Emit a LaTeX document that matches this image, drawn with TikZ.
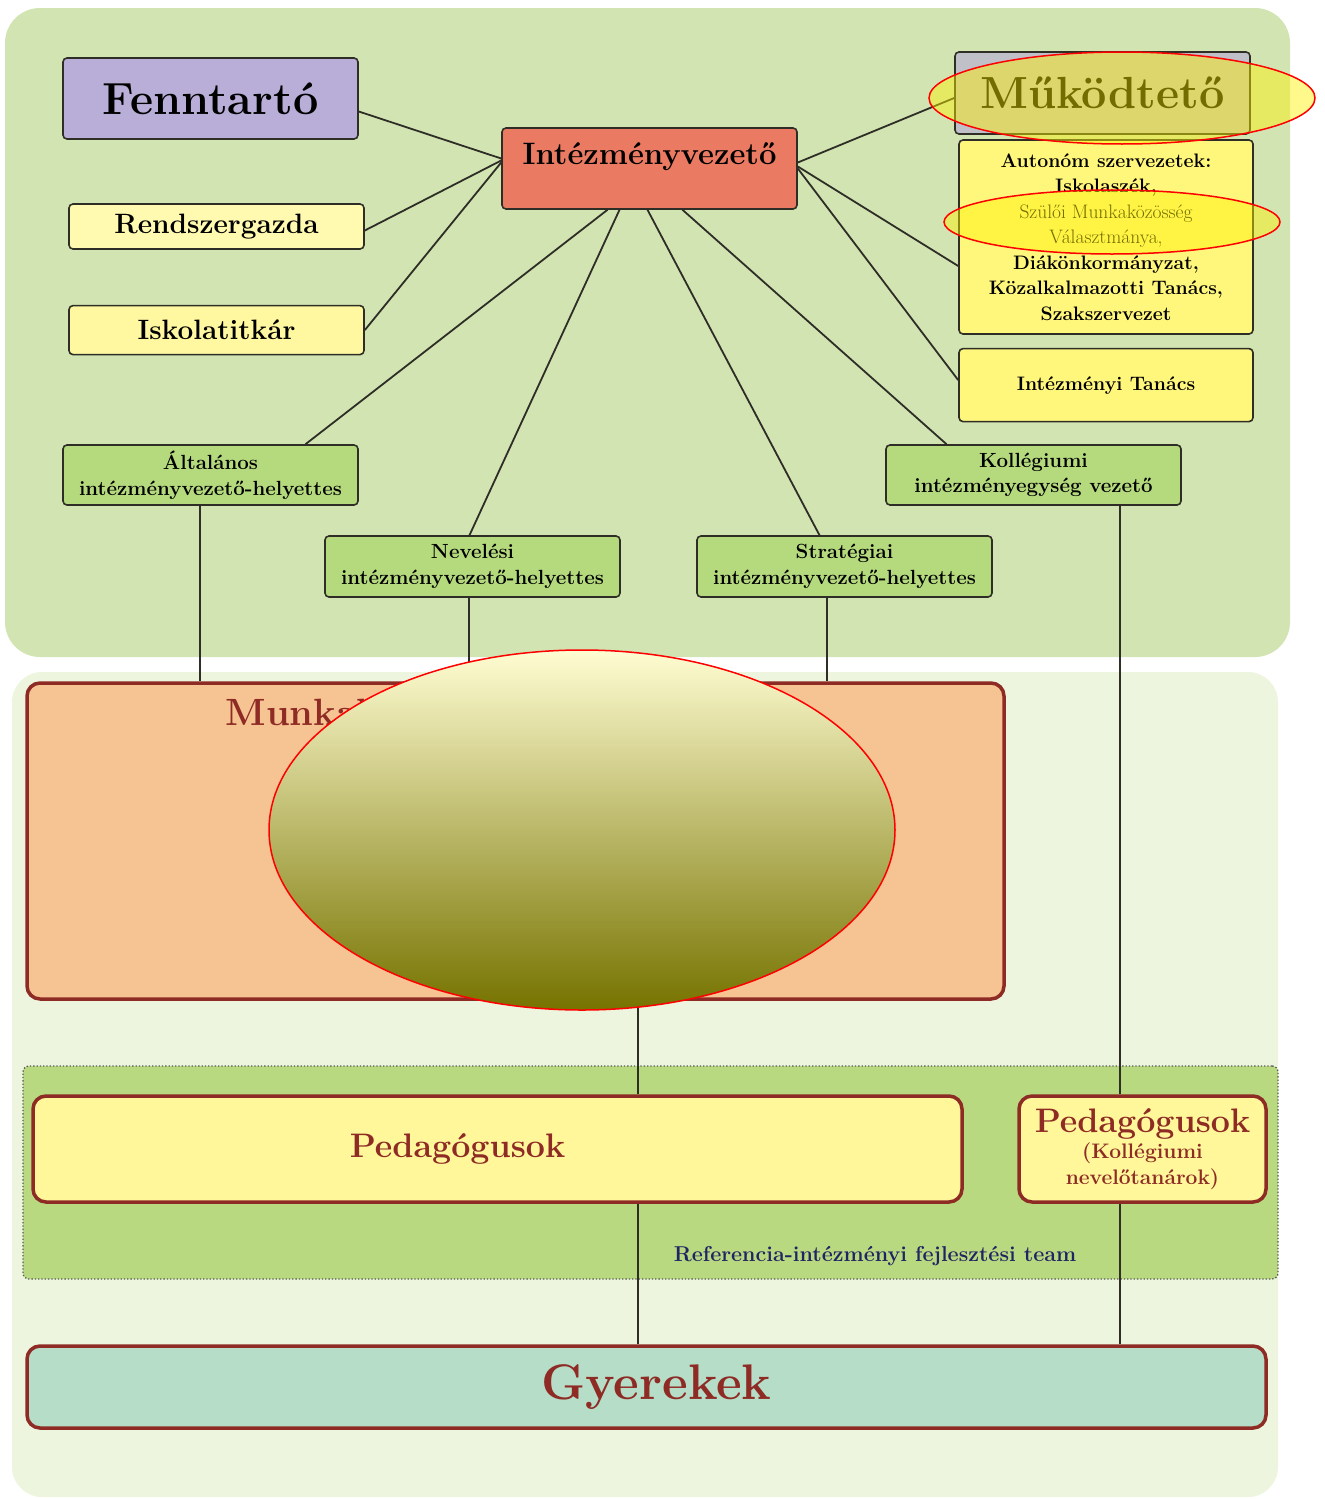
\documentclass[tikz,border=0pt]{standalone}
\usetikzlibrary{positioning}
\definecolor{bgfelso}{HTML}{D3E4B3}
\definecolor{bgalso}{HTML}{EDF5DE}
\definecolor{lila}{HTML}{B8AED8}
\definecolor{vezpiros}{HTML}{EB7A62}
\definecolor{szurke}{HTML}{C0C0C8}
\definecolor{sarga}{HTML}{FFF67C}
\definecolor{halvsarga}{HTML}{FFFAB0}
\definecolor{isksarga}{HTML}{FFF8A0}
\definecolor{zold}{HTML}{B5DA7E}
\definecolor{barack}{HTML}{F6C392}
\definecolor{bordo}{HTML}{8E2B24}
\definecolor{pedsarga}{HTML}{FFF79A}
\definecolor{teamzold}{HTML}{B9D980}
\definecolor{menta}{HTML}{B5DDC8}
\definecolor{sotetkek}{HTML}{1F2563}
\definecolor{keret}{HTML}{2E2E26}
\definecolor{elliptop}{HTML}{FFFDD2}
\definecolor{ellipbot}{HTML}{767300}

\begin{document}
\begin{tikzpicture}[x=1pt, y=-1pt,
  box/.style={rectangle, draw=keret, line width=1.6pt, rounded corners=4pt, inner sep=0pt, align=center, minimum width=295pt},
  felsobox/.style={box, font=\fontsize{45}{48}\selectfont\bfseries},
  kisbox/.style={box, font=\fontsize{28}{30}\selectfont\bfseries},
  testulet/.style={box, fill=sarga, minimum width=294pt, font=\fontsize{19.5}{25.5}\selectfont\bfseries},
  helyettes/.style={box, fill=zold, minimum height=61pt, font=\fontsize{20.5}{25.5}\selectfont\bfseries},
  nagybox/.style={rectangle, draw=bordo, line width=3.5pt, rounded corners=13pt, inner sep=0pt, align=center, text=bordo, font=\bfseries},
  link/.style={draw=keret, line width=1.8pt},
  kiemel/.style={draw=red, line width=1.5pt, fill=yellow, fill opacity=0.45}
]
  \useasboundingbox (0,0) rectangle (1325,1499);

  % Backgrounds
  \fill[bgfelso, rounded corners=35pt] (5,8) rectangle (1290,657);
  \fill[bgalso, rounded corners=30pt] (12,672) rectangle (1278,1497);
  \node[rectangle, draw=black!65, dotted, line width=1.3pt, fill=teamzold, rounded corners=6pt,
        minimum width=1255pt, minimum height=213pt] (team) at (650.5,1172.5) {};
  \node[font=\fontsize{21.5}{24}\selectfont\bfseries, text=sotetkek] (teamcim) at (875,1256) {Referencia-intézményi fejlesztési team};

  % Top level
  \node[felsobox, fill=lila, minimum height=81pt] (fennt) at (210.5,98.5) {Fenntartó};
  \node[box, fill=vezpiros, text height=36pt, text depth=45pt, font=\fontsize{31}{33}\selectfont\bfseries] (vez) at (649.5,168.5) {Intézményvezető};
  \node[felsobox, fill=szurke, minimum height=82pt] (mukod) at (1102.5,93) {Működtető};
  \node[testulet, minimum height=194pt] (auton) at (1106,237)
    {Autonóm szervezetek:\\ Iskolaszék,\\
     {\mdseries Szülői Munkaközösség}\\ {\mdseries Választmánya,}\\
     Diákönkormányzat,\\ Közalkalmazotti Tanács,\\ Szakszervezet};
  \node[testulet, minimum height=73pt, below=13pt of auton] (tanacs) {Intézményi Tanács};
  \node[kisbox, fill=halvsarga, minimum height=45pt] (rendsz) at (216.5,226.5) {Rendszergazda};
  \node[kisbox, fill=isksarga, minimum height=49pt, below=55pt of rendsz] (iskola) {Iskolatitkár};

  % Deputies
  \node[helyettes, minimum height=60pt] (alt) at (210.5,475) {Általános\\ intézményvezető-helyettes};
  \node[helyettes] (nev) at (472.5,566.5) {Nevelési\\ intézményvezető-helyettes};
  \node[helyettes] (strat) at (844.5,566.5) {Stratégiai\\ intézményvezető-helyettes};
  \node[helyettes, minimum height=60pt] (koll) at (1033.5,475) {Kollégiumi\\ intézményegység vezető};

  % Lower boxes
  \node[nagybox, fill=barack, minimum width=977pt, minimum height=316pt] (munka) at (515.5,841) {};
  \node[anchor=base west, text=bordo, font=\fontsize{38}{40}\selectfont\bfseries] (munkacim) at (222,725) {Munkaközösségek};
  \node[nagybox, fill=pedsarga, minimum width=929pt, minimum height=106pt, font=\fontsize{34}{36}\selectfont\bfseries] (ped) at (497.5,1149) {\hspace*{-80pt}Pedagógusok};
  \node[nagybox, fill=pedsarga, minimum width=247pt, minimum height=106pt, font=\fontsize{21}{26}\selectfont\bfseries] (pedk) at (1142.5,1149)
    {{\fontsize{34}{34}\selectfont Pedagógusok}\\ (Kollégiumi\\ nevelőtanárok)};
  \node[nagybox, fill=menta, minimum width=1239pt, minimum height=82pt, font=\fontsize{50}{52}\selectfont\bfseries] (gyer) at (646.5,1387) {\hspace*{20pt}Gyerekek};

  % Connectors
  \draw[link] ([yshift=-13pt]fennt.east) -- ([yshift=10pt]vez.west);
  \draw[link] ([yshift=-4pt]rendsz.east) -- ([yshift=8pt]vez.west);
  \draw[link] (iskola.east) -- ([yshift=6pt]vez.west);
  \draw[link] ([xshift=95pt]alt.north) -- ([xshift=-42pt]vez.south);
  \draw[link] ([xshift=-3pt]nev.north) -- ([xshift=-30pt]vez.south);
  \draw[link] ([xshift=-25pt]strat.north) -- ([xshift=-2pt]vez.south);
  \draw[link] ([xshift=-87pt]koll.north) -- ([xshift=33pt]vez.south);
  \draw[link] ([yshift=6pt]vez.east) -- ([yshift=-5pt]mukod.west);
  \draw[link] ([yshift=2pt]vez.east) -- ([yshift=-29pt]auton.west);
  \draw[link] (vez.east) -- ([yshift=5pt]tanacs.west);
  \draw[link, line width=1.4pt] ([xshift=-10.5pt]alt.south) coordinate (a1) -- (a1 |- munka.north);
  \draw[link, line width=1.4pt] ([xshift=-3.5pt]nev.south) coordinate (a2) -- (a2 |- munka.north);
  \draw[link, line width=1.4pt] ([xshift=-17.5pt]strat.south) coordinate (a3) -- (a3 |- munka.north);
  \draw[link, line width=1.4pt] ([xshift=86.5pt]koll.south) coordinate (a4) -- (a4 |- pedk.north);
  \draw[link, line width=1.4pt] (pedk.south -| a4) -- (a4 |- gyer.north);
  \draw[link, line width=1.4pt] ([xshift=122.5pt]munka.south) coordinate (a5) -- (a5 |- ped.north);
  \draw[link, line width=1.4pt] (ped.south -| a5) -- (a5 |- gyer.north);

  % Highlights
  \shade[top color=elliptop, bottom color=ellipbot, draw=red, line width=1.5pt] (582,830) ellipse [x radius=313, y radius=180];
  \draw[kiemel] (1122,98) ellipse [x radius=193, y radius=46];
  \draw[kiemel] (1112,222) ellipse [x radius=168, y radius=32];
\end{tikzpicture}
\end{document}
